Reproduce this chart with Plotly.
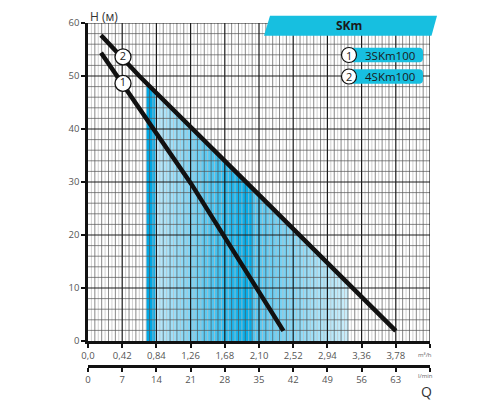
import numpy as np
import plotly.graph_objects as go

# Q (m3/h) / H (m)
q_3skm = [0.16, 1.27, 2.40]
h_3skm = [54.4, 29.6, 1.9]

q_4skm = [0.16, 0.63, 1.98, 3.25, 3.78]
h_4skm = [57.7, 50.0, 29.4, 10.0, 1.9]

# blue working zone under curve 2
zone_q = [0.715, 3.20]
zone_h = [48.6, 11.0]

# darker band between the two curves
band_q = [0.715, 1.27, 2.02]
band_low = [42.0, 29.6, 11.2]
band_high = [48.6, 40.2, 28.8]

label_q = [0.43, 0.43]
label_h = [48.6, 53.6]
label_txt = ["1", "2"]

q_ticks = [0, 0.42, 0.84, 1.26, 1.68, 2.10, 2.52, 2.94, 3.36, 3.78]
lmin_ticks = [0, 7, 14, 21, 28, 35, 42, 49, 56, 63]
h_ticks = [0, 10, 20, 30, 40, 50, 60]

models = ["3SKm100", "4SKm100"]

FONT = "Open Sans"
CYAN = "#17bfe0"

# pixel -> paper helpers (plot area 88..430 x 23..366 on the page)
def px(x):
    return (x - 88) / 342

def py(y):
    return (366 - y) / 343

fig = go.Figure()

# gradient zone
grad_pos = [0.715, 0.815, 0.83, 1.3, 1.7, 2.0, 2.02, 2.6, 3.2]
grad_col = ["#00a8e4", "#00a8e4", "#bce8fa", "#78d2f4", "#2cbcf0",
            "#00abe8", "#50c5f1", "#8fdaf6", "#cbeefb"]
span = grad_pos[-1] - grad_pos[0]
cscale = [[(p - grad_pos[0]) / span, c] for p, c in zip(grad_pos, grad_col)]
fig.add_trace(go.Scatter(
    x=zone_q, y=zone_h, mode="none", fill="tozeroy",
    fillgradient=dict(type="horizontal", colorscale=cscale,
                      start=grad_pos[0], stop=grad_pos[-1]),
    hoverinfo="skip", showlegend=False))

fig.add_trace(go.Scatter(x=band_q, y=band_low, mode="none",
                         hoverinfo="skip", showlegend=False))
fig.add_trace(go.Scatter(x=band_q, y=band_high, mode="none", fill="tonexty",
                         fillcolor="#00aeec", hoverinfo="skip",
                         showlegend=False))

# grid drawn as lines over the zone
def vlines(vals):
    xs, ys = [], []
    for v in vals:
        xs += [v, v, None]
        ys += [0, 60, None]
    return xs, ys

def hlines(vals):
    xs, ys = [], []
    for v in vals:
        xs += [0, 4.2, None]
        ys += [v, v, None]
    return xs, ys

odd = [0.042 * k for k in range(1, 100, 2)]
even = [0.042 * k for k in range(2, 100, 2) if k % 10]
hmin = [2 * k for k in range(1, 30) if k % 5]
major_v = [0.42 * k for k in range(1, 11)]
major_h = [10 * k for k in range(1, 7)]

for (xs, ys), col, w in [
    (vlines(odd), "#bdbdbd", 0.7),
    (vlines(even), "#555555", 0.7),
    (hlines(hmin), "#555555", 0.7),
    (vlines(major_v), "#1a1a1a", 1.2),
    (hlines(major_h), "#1a1a1a", 1.2),
]:
    fig.add_trace(go.Scatter(x=xs, y=ys, mode="lines",
                             line=dict(color=col, width=w),
                             hoverinfo="skip", showlegend=False))

# pump curves
for q, h, name in [(q_3skm, h_3skm, models[0]), (q_4skm, h_4skm, models[1])]:
    fig.add_trace(go.Scatter(x=q, y=h, mode="lines", name=name,
                             line=dict(color="#111111", width=4.5),
                             showlegend=False))

# numbered markers on curves
fig.add_trace(go.Scatter(
    x=label_q, y=label_h, mode="markers+text", text=label_txt,
    textposition="middle center",
    textfont=dict(family=FONT, size=11, color="#222"),
    marker=dict(size=16, color="white", line=dict(color="#111", width=1.3)),
    hoverinfo="skip", showlegend=False))

# l/min axis helper trace
fig.add_trace(go.Scatter(x=[0, 70], y=[0, 0], xaxis="x2", mode="none",
                         hoverinfo="skip", showlegend=False))

shapes = []
annotations = []

def note(x, y, text, size, color="#1a1a1a", xanchor="center"):
    return dict(x=px(x), y=py(y), xref="paper", yref="paper", text=text,
                showarrow=False, xanchor=xanchor, yanchor="middle",
                font=dict(family=FONT, size=size, color=color))

# header parallelogram
shapes.append(dict(
    type="path", xref="paper", yref="paper",
    path=f"M {px(270)} {py(15.7)} L {px(437)} {py(15.7)} "
         f"L {px(431.5)} {py(35.7)} L {px(264)} {py(35.7)} Z",
    fillcolor=CYAN, line=dict(width=0)))
annotations.append(note(349, 26, "<b>SKm</b>", 12))

# legend boxes
for i, (name, yc) in enumerate(zip(models, [55, 76.5])):
    x0, x1, y0, y1, r = 353, 423, yc - 7.3, yc + 7.3, 4
    path = (f"M {px(x0)} {py(y0)} L {px(x1 - r)} {py(y0)} "
            f"Q {px(x1)} {py(y0)} {px(x1)} {py(y0 + r)} "
            f"L {px(x1)} {py(y1 - r)} Q {px(x1)} {py(y1)} {px(x1 - r)} {py(y1)} "
            f"L {px(x0)} {py(y1)} Z")
    shapes.append(dict(type="path", xref="paper", yref="paper", path=path,
                       fillcolor=CYAN, line=dict(width=0)))
    shapes.append(dict(type="circle", xref="paper", yref="paper",
                       x0=px(349 - 7.5), x1=px(349 + 7.5),
                       y0=py(yc + 7.5), y1=py(yc - 7.5),
                       fillcolor="white", line=dict(color="#111", width=1.2)))
    annotations.append(note(349, yc, str(i + 1), 11, "#222"))
    annotations.append(note(389.5, yc, name, 11.5))

# axis titles / units
annotations += [
    note(88, 16.5, "H (м)", 12, "#333", xanchor="left"),
    note(425, 355, "m³/h", 6, "#666"),
    note(425, 376, "l/min", 6, "#666"),
    note(426, 391, "Q", 14, "#333"),
]

tickfont = dict(family=FONT, size=9.5, color="#555")
axis_style = dict(showgrid=False, zeroline=False, showline=True,
                  linecolor="#111", linewidth=2.5, ticks="outside", ticklen=4,
                  tickcolor="#111", tickwidth=1.5, tickfont=tickfont,
                  automargin=False, fixedrange=True)

fig.update_layout(
    width=500, height=400,
    # page body adds 8px, so the plot box is shifted back by that much
    margin=dict(l=80, r=78, t=15, b=42),
    paper_bgcolor="white", plot_bgcolor="white",
    showlegend=False,
    xaxis=dict(range=[0, 4.2], tickvals=q_ticks + [4.2],
               ticktext=[f"{v:.2f}".replace(".", ",") if v else "0,0" for v in q_ticks] + [""],
               **axis_style),
    xaxis2=dict(range=[0, 70], tickvals=lmin_ticks + [70],
                ticktext=[str(v) for v in lmin_ticks] + [""],
                overlaying="x", anchor="free", position=0, side="bottom",
                **axis_style),
    yaxis=dict(range=[0, 60], domain=[py(341), 1], tickvals=h_ticks,
               **axis_style),
    shapes=shapes,
    annotations=annotations,
)

fig.write_html("out.html")
